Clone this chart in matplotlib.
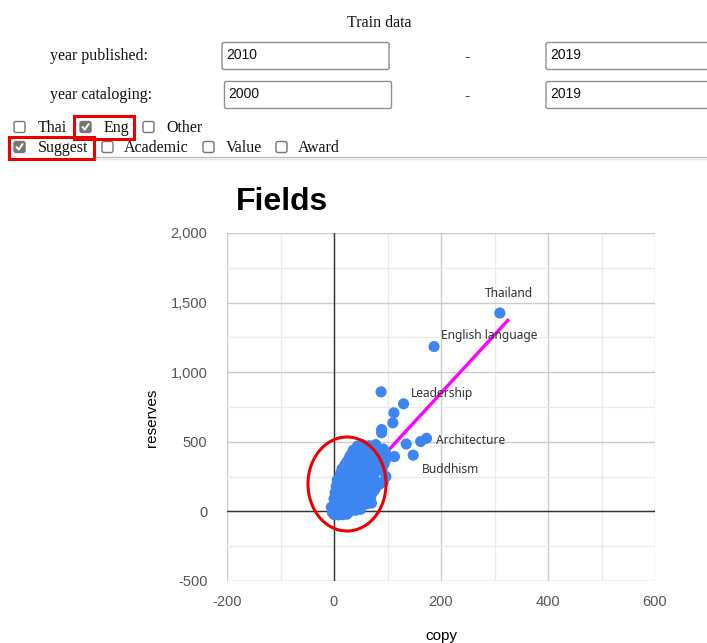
import matplotlib
matplotlib.use("Agg")
import matplotlib.pyplot as plt
from matplotlib.patches import FancyBboxPatch, Rectangle, Ellipse
from matplotlib.ticker import MultipleLocator, FuncFormatter

plt.rcParams["axes.unicode_minus"] = False

# copies vs. reserves per field (Eng + Suggest, 2010-2019)
copy = [0, 8, 16, 24, -3,
        0, 10, 20, 30, 40, 50, -5,
        2, 12, 22, 32, 42, 52, 62, 70,
        6, 16, 26, 36, 46, 56, 66,
        0, 10, 20, 30, 40, 50, 60, 68,
        6, 16, 26, 36, 48, 58, 70,
        2, 12, 22, 32, 45, 55, 65, 75,
        8, 18, 28, 40, 52, 64, 78,
        4, 14, 24, 36, 48, 60, 72, 85,
        10, 20, 32, 44, 56, 68, 80,
        6, 16, 28, 40, 52, 64, 92,
        14, 26, 38, 50, 62, 74,
        12, 22, 34, 46, 58, 68, 97,
        18, 30, 42, 54, 66, 78, 90,
        15, 26, 38, 50, 62, 74, 86,
        20, 32, 44, 56, 68, 80, 92,
        24, 36, 48, 60, 72, 84, 94,
        28, 42, 56, 70, 82, 96,
        30, 40, 64, 76, 88, 100,
        34, 46, 60, 72, 84, 96,
        36, 48, 58, 70, 82, 92,
        44, 54, 66, 78,
        89, 89, 110, 112, 130, 88, 135, 148, 113, 162, 173, 187, 310]
reserves = [-22, -25, -24, -20, -8,
            10, 8, 5, 0, 8, 15, 30,
            45, 40, 48, 38, 45, 50, 55, 60,
            65, 68, 62, 70, 66, 72, 75,
            90, 85, 95, 88, 92, 85, 95, 100,
            112, 110, 115, 108, 112, 118, 122,
            135, 130, 140, 135, 130, 140, 145, 150,
            158, 160, 155, 162, 158, 165, 170,
            180, 185, 175, 180, 185, 178, 190, 195,
            205, 200, 208, 202, 206, 200, 208,
            225, 230, 220, 228, 232, 225, 210,
            250, 248, 252, 246, 250, 245,
            270, 275, 268, 272, 265, 262, 250,
            290, 292, 288, 295, 290, 285, 300,
            305, 310, 315, 308, 312, 305, 318,
            332, 330, 335, 328, 332, 330, 335,
            355, 350, 358, 350, 355, 348, 345,
            378, 380, 375, 378, 372, 370,
            398, 405, 400, 395, 402, 390,
            420, 422, 425, 418, 420, 425,
            440, 445, 438, 442, 436, 448,
            470, 478, 472, 480,
            588, 565, 636, 708, 773, 859, 484, 404, 394, 502, 525, 1184, 1425]

# linear trendline end points
trend_x = [0, 327]
trend_y = [14, 1381]

# labelled fields: (name, copy, reserves, text offset in px)
label_names = ["Thailand", "English language", "Leadership", "Architecture", "Buddhism"]
label_copy = [310, 187, 130, 173, 148]
label_res = [1425, 1184, 773, 525, 404]
label_offsets = [(-15, 20), (7, 11), (7, 10), (9, -2), (9, -14)]

# filter form contents
year_rows = ["year published:", "year cataloging:"]
year_from = ["2010", "2000"]
year_to = ["2019", "2019"]
lang_opts = ["Thai", "Eng", "Other"]
lang_checked = [False, True, False]
type_opts = ["Suggest", "Academic", "Value", "Award"]
type_checked = [True, False, False, False]

W, H = 707, 643
fig = plt.figure(figsize=(W / 100, H / 100), dpi=100)

# scatter chart
ax = fig.add_axes([227 / W, 1 - 581 / H, (655 - 227) / W, (581 - 233) / H])
ax.set_xlim(-200, 600)
ax.set_ylim(-500, 2000)
ax.xaxis.set_major_locator(MultipleLocator(200))
ax.xaxis.set_minor_locator(MultipleLocator(100))
ax.yaxis.set_major_locator(MultipleLocator(500))
ax.yaxis.set_minor_locator(MultipleLocator(250))
ax.grid(True, which="major", color="#cccccc", lw=1.0, zorder=0)
ax.grid(True, which="minor", color="#ebebeb", lw=1.0, zorder=0)
ax.set_axisbelow(True)
for s in ax.spines.values():
    s.set_visible(False)
ax.axvline(0, color="#333333", lw=1.0, zorder=1)
ax.axhline(0, color="#333333", lw=1.0, zorder=1)
ax.tick_params(which="both", length=0, labelsize=10.5, labelcolor="#555555",
               labelfontfamily="Liberation Sans")
ax.tick_params(axis="y", pad=14)
ax.tick_params(axis="x", pad=10)
ax.yaxis.set_major_formatter(FuncFormatter(lambda v, p: f"{int(v):,}"))

ax.plot(trend_x, trend_y, color="#ff00ff", lw=2.4, zorder=2, solid_capstyle="butt")
ax.scatter(copy, reserves, s=64, color="#3d85f0", edgecolors="none", zorder=3)
for name, cx, cy, off in zip(label_names, label_copy, label_res, label_offsets):
    ax.annotate(name, (cx, cy), xytext=off, textcoords="offset pixels",
                ha="left", va="center", fontsize=8.6, color="#333333",
                family="Noto Sans", zorder=4)

fig.text(441 / W, 1 - 636 / H, "copy", ha="center", va="center",
         fontsize=11, family="Liberation Sans")
fig.text(152 / W, 1 - 418 / H, "reserves", ha="center", va="center",
         rotation=90, fontsize=11, family="Liberation Sans")
fig.text(236 / W, 1 - 202 / H, "Fields", ha="left", va="center",
         fontsize=23, fontweight="bold", family="Liberation Sans")

# form overlay in pixel coordinates
ov = fig.add_axes([0, 0, 1, 1])
ov.set_xlim(0, W)
ov.set_ylim(H, 0)
ov.axis("off")
ov.patch.set_visible(False)

serif = dict(family="Liberation Serif", fontsize=11.5, color="#111111", va="center")
ov.text(379, 23, "Train data", ha="center", **serif)

for i, label in enumerate(year_rows):
    yc = 56 + 39 * i
    ov.text(50, yc, label, ha="left", **serif)
    bx = 222 + 2.5 * i
    for x0, x1, val in [(bx, bx + 167, year_from[i]), (546, 720, year_to[i])]:
        ov.add_patch(FancyBboxPatch((x0, yc - 13.5), x1 - x0, 27,
                                    boxstyle="round,pad=0,rounding_size=2",
                                    fc="white", ec="#8f8f8f", lw=1.0))
        ov.text(x0 + 4, yc - 1, val, ha="left", va="center", fontsize=10,
                family="Liberation Sans", color="#111111")
    ov.text(467, yc + 1, "-", ha="center", **serif)


def checkbox(x, y, checked):
    ov.add_patch(FancyBboxPatch((x, y - 5.5), 11, 11,
                                boxstyle="round,pad=0,rounding_size=2",
                                fc="#767676" if checked else "white",
                                ec="#767676", lw=1.0))
    if checked:
        ov.plot([x + 2.5, x + 4.8, x + 8.6], [y, y + 2.6, y - 3],
                color="white", lw=1.4, solid_capstyle="round")


lang_box_x = [14, 80, 143]
lang_text_x = [38, 104, 166]
for opt, on, bx, tx in zip(lang_opts, lang_checked, lang_box_x, lang_text_x):
    checkbox(bx, 127, on)
    ov.text(tx, 128, opt, ha="left", **serif)

type_box_x = [14, 102, 203, 276]
type_text_x = [38, 124, 226, 298]
for opt, on, bx, tx in zip(type_opts, type_checked, type_box_x, type_text_x):
    checkbox(bx, 147, on)
    ov.text(tx, 148, opt, ha="left", **serif)

# separator rule
ov.plot([96, W], [157, 157], color="#bdbdbd", lw=1.0)
ov.plot([96, W], [158.5, 158.5], color="#e6e6e6", lw=1.0)

# highlight boxes
ov.add_patch(Rectangle((74, 116), 60, 23, fill=False, ec="#ee0000", lw=2.2))
ov.add_patch(Rectangle((9, 137), 85, 22, fill=False, ec="#ee0000", lw=2.2))
ov.add_patch(Ellipse((347, 484), 78, 94, fill=False, ec="#ee0000", lw=2.2))

fig.savefig("out.png", dpi=100)
